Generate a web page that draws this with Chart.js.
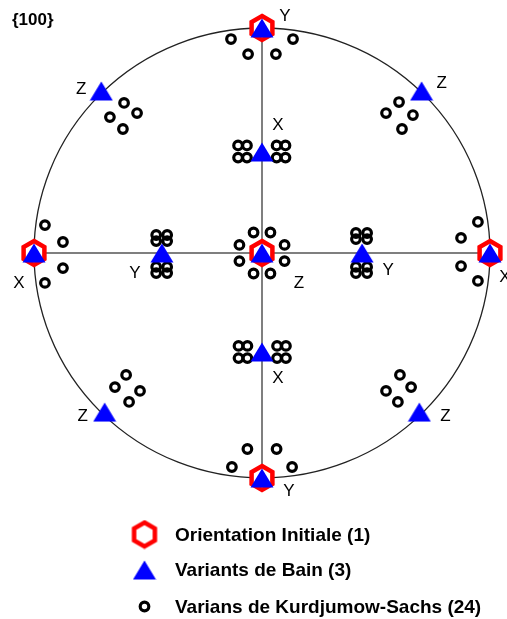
<!DOCTYPE html>
<html>
<head>
<meta charset="utf-8">
<script src="https://cdn.jsdelivr.net/npm/chart.js@4"></script>
<style>
  html, body { margin: 0; padding: 0; background: #fff; }
  #wrap { width: 507px; height: 619px; }
</style>
</head>
<body>
<div id="wrap"><canvas id="pole" width="507" height="619"></canvas></div>
<script>
// {100} pole figure - stereographic coords, unit circle
var figTitle = '{100}';

// orientation initiale
var initialX = [0, 0, -1, 1, 0];
var initialY = [1, -1, 0, 0, 0];

// variants de Bain (triangles) + axis names
var bainX = [0, 0, -1, 1, 0, 0, 0, -0.439, 0.439, -0.705, 0.70, -0.69, 0.69];
var bainY = [1, -1, 0, 0, 0, 0.449, -0.44, 0, 0, 0.72, 0.72, -0.707, -0.707];
var bainAxis = ['Y', 'Y', 'X', 'X', 'Z', 'X', 'X', 'Y', 'Y', 'Z', 'Z', 'Z', 'Z'];

// variants de Kurdjumow-Sachs (circles)
var ksX = [
  -0.136, -0.061, 0.061, 0.136,                                   // top Y
  -0.132, -0.064, 0.064, 0.132,                                   // bottom Y
  -0.952, -0.873, -0.873, -0.952,                                 // left X
  0.947, 0.873, 0.873, 0.947,                                     // right X
  -0.037, 0.037, -0.099, 0.099, -0.099, 0.099, -0.037, 0.037,     // centre
  -0.105, -0.066, -0.105, -0.066, 0.064, 0.103, 0.064, 0.103,     // upper X
  -0.103, -0.064, -0.103, -0.064, 0.066, 0.105, 0.066, 0.105,     // lower X
  -0.464, -0.416, -0.464, -0.416, -0.464, -0.416, -0.464, -0.416, // left Y
  0.412, 0.461, 0.412, 0.461, 0.412, 0.461, 0.412, 0.461,         // right Y
  -0.605, -0.667, -0.548, -0.610,                                 // Z up-left
  0.601, 0.662, 0.544, 0.614,                                     // Z up-right
  -0.596, -0.645, -0.535, -0.583,                                 // Z low-left
  0.605, 0.654, 0.544, 0.596                                      // Z low-right
];
var ksY = [
  0.951, 0.884, 0.884, 0.951,
  -0.951, -0.871, -0.871, -0.951,
  0.124, 0.049, -0.067, -0.133,
  0.138, 0.067, -0.058, -0.124,
  0.091, 0.091, 0.036, 0.036, -0.036, -0.036, -0.091, -0.091,
  0.478, 0.478, 0.424, 0.424, 0.478, 0.478, 0.424, 0.424,
  -0.413, -0.413, -0.467, -0.467, -0.413, -0.413, -0.467, -0.467,
  0.080, 0.080, 0.053, 0.053, -0.062, -0.062, -0.089, -0.089,
  0.089, 0.089, 0.062, 0.062, -0.062, -0.062, -0.089, -0.089,
  0.667, 0.604, 0.622, 0.551,
  0.671, 0.613, 0.622, 0.551,
  -0.542, -0.596, -0.613, -0.662,
  -0.542, -0.596, -0.613, -0.662
];

var seriesNames = ['Orientation Initiale (1)', 'Variants de Bain (3)', 'Varians de Kurdjumow-Sachs (24)'];

// pixel offsets of the X/Y/Z labels from their triangle
var labelDx = [23, 27, -15, 15, 37, 16, 16, -27, 26, -20, 20, -22, 26];
var labelDy = [-12, 13, 30, 24, 30, -27, 26, 20, 17, -2, -8, 4, 4];

function pts(xs, ys) {
  return xs.map(function(x, i) { return { x: x, y: ys[i] }; });
}

// marker images
function hexagon() {
  var c = document.createElement('canvas');
  c.width = 30; c.height = 30;
  var g = c.getContext('2d');
  g.beginPath();
  for (var k = 0; k < 6; k++) {
    var a = -Math.PI / 2 + k * Math.PI / 3;
    var px = 15 + 12 * Math.cos(a), py = 15 + 12 * Math.sin(a);
    if (k == 0) g.moveTo(px, py); else g.lineTo(px, py);
  }
  g.closePath();
  g.fillStyle = '#fff';
  g.fill();
  g.lineWidth = 4.5;
  g.strokeStyle = '#ff0000';
  g.stroke();
  return c;
}
function triangle() {
  var c = document.createElement('canvas');
  c.width = 24; c.height = 20;
  var g = c.getContext('2d');
  g.beginPath();
  g.moveTo(12, 0.5);
  g.lineTo(23.5, 19.5);
  g.lineTo(0.5, 19.5);
  g.closePath();
  g.fillStyle = '#0000ff';
  g.fill();
  return c;
}
var hexImg = hexagon();
var triImg = triangle();

var FONT = 'Arial, "Liberation Sans", sans-serif';

var frame = {
  id: 'frame',
  beforeDatasetsDraw: function(chart) {
    var ctx = chart.ctx, xs = chart.scales.x, ys = chart.scales.y;
    var cx = xs.getPixelForValue(0), cy = ys.getPixelForValue(0);
    var rx = xs.getPixelForValue(1) - cx, ry = cy - ys.getPixelForValue(1);
    ctx.save();
    ctx.strokeStyle = '#555';
    ctx.lineWidth = 1.5;
    ctx.beginPath();
    ctx.moveTo(cx - rx, cy); ctx.lineTo(cx + rx, cy);
    ctx.moveTo(cx, cy - ry); ctx.lineTo(cx, cy + ry);
    ctx.stroke();
    ctx.strokeStyle = '#222';
    ctx.lineWidth = 1.3;
    ctx.beginPath();
    ctx.ellipse(cx, cy, rx, ry, 0, 0, Math.PI * 2);
    ctx.stroke();
    ctx.restore();
  },
  afterDatasetsDraw: function(chart) {
    var ctx = chart.ctx;
    ctx.save();
    // axis names next to the Bain variants
    var meta = chart.getDatasetMeta(1);
    ctx.fillStyle = '#000';
    ctx.font = '17px ' + FONT;
    ctx.textAlign = 'center';
    ctx.textBaseline = 'middle';
    meta.data.forEach(function(el, i) {
      ctx.fillText(bainAxis[i], el.x + labelDx[i], el.y + labelDy[i]);
    });
    // title
    ctx.font = 'bold 17px ' + FONT;
    ctx.textAlign = 'left';
    ctx.fillText(figTitle, 12, 20);
    // legend
    var rows = [534.5, 570, 606.5];
    ctx.font = 'bold 19px ' + FONT;
    chart.data.datasets.forEach(function(ds, i) {
      var y = rows[i];
      if (typeof ds.pointStyle === 'string') {
        ctx.strokeStyle = ds.borderColor;
        ctx.fillStyle = ds.backgroundColor;
        ctx.lineWidth = ds.borderWidth;
        Chart.helpers.drawPoint(ctx, { pointStyle: ds.pointStyle, radius: ds.pointRadius, borderWidth: ds.borderWidth, rotation: 0 }, 144.5, y);
      } else {
        ctx.drawImage(ds.pointStyle, 144.5 - ds.pointStyle.width / 2, y - ds.pointStyle.height / 2);
      }
      ctx.fillStyle = '#000';
      ctx.fillText(ds.label, 175, y + 1);
    });
    ctx.restore();
  }
};

new Chart(document.getElementById('pole'), {
  type: 'scatter',
  data: {
    datasets: [{
      label: seriesNames[0],
      data: pts(initialX, initialY),
      pointStyle: hexImg,
      order: 1,
      clip: false
    }, {
      label: seriesNames[1],
      data: pts(bainX, bainY),
      pointStyle: triImg,
      order: 0,
      clip: false
    }, {
      label: seriesNames[2],
      data: pts(ksX, ksY),
      pointStyle: 'circle',
      pointRadius: 4.3,
      borderWidth: 3.2,
      borderColor: '#000',
      backgroundColor: 'rgba(255,255,255,0)',
      order: 2,
      clip: false
    }]
  },
  options: {
    responsive: false,
    animation: false,
    layout: { padding: { left: 34, right: 17, top: 28, bottom: 141 } },
    scales: {
      x: { type: 'linear', min: -1, max: 1, display: false },
      y: { type: 'linear', min: -1, max: 1, display: false }
    },
    plugins: {
      legend: { display: false },
      tooltip: { enabled: false }
    }
  },
  plugins: [frame]
});
</script>
</body>
</html>
